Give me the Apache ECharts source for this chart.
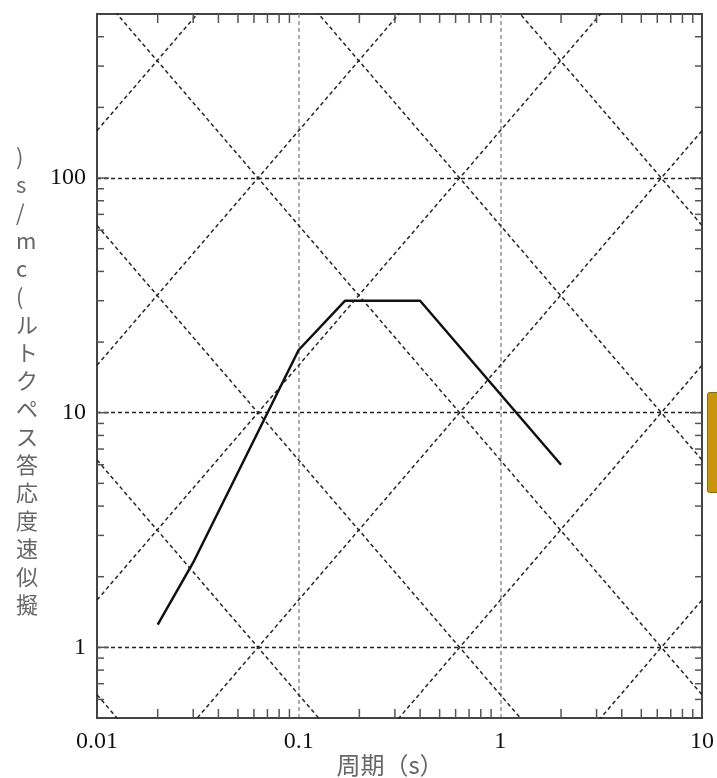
<!DOCTYPE html>
<html>
<head>
<meta charset="utf-8">
<script src="https://cdn.jsdelivr.net/npm/echarts@6/dist/echarts.min.js"></script>
<style>
html,body{margin:0;padding:0;background:#fff;}
#chart{width:717px;height:778px;}
</style>
</head>
<body>
<div id="chart"></div>
<script>
// ---- data ----
const periods = [0.02, 0.03, 0.1, 0.17, 0.4, 2];          // 周期 (s)
const pseudoVelocity = [1.25, 2.3, 18.5, 30, 30, 6];        // cm/s
const xTickLabels = ['0.01', '0.1', '1', '10'];
const yTickLabels = ['1', '10', '100'];
const displacementLevels = [0.001, 0.01, 0.1, 1, 10, 100];  // cm (tripartite guides)
const accelerationLevels = [1, 10, 100, 1000, 10000, 100000]; // cm/s^2 (tripartite guides)
const xMinorTicks = [0.02,0.03,0.04,0.05,0.06,0.07,0.08,0.09,0.2,0.3,0.4,0.5,0.6,0.7,0.8,0.9,2,3,4,5,6,7,8,9];
const yMinorTicks = [0.6,0.7,0.8,0.9,2,3,4,5,6,7,8,9,20,30,40,50,60,70,80,90,200,300,400];
const yMajorTicks = [1, 10, 100];
const yNameChars = [')', 's', '/', 'm', 'c', '(', 'ル', 'ト', 'ク', 'ペ', 'ス', '答', '応', '度', '速', '似', '擬'];
const xName = '周期（s）';

const X_MIN = 0.01, X_MAX = 10, Y_MIN = 0.5, Y_MAX = 500;
const TWO_PI = 2 * Math.PI;

const chart = echarts.init(document.getElementById('chart'));

function fmt(list) {
  return function (v) {
    const s = String(+Number(v).toPrecision(6));
    return list.indexOf(s) >= 0 ? s : '';
  };
}

const guideStyle = { color: '#262626', width: 1.5, type: [4, 3] };
const series = [];
displacementLevels.forEach(function (d) {
  series.push({
    type: 'line', silent: true, symbol: 'none', clip: true, z: 2,
    lineStyle: guideStyle,
    data: [[X_MIN, TWO_PI * d / X_MIN], [X_MAX, TWO_PI * d / X_MAX]]
  });
});
accelerationLevels.forEach(function (a) {
  series.push({
    type: 'line', silent: true, symbol: 'none', clip: true, z: 2,
    lineStyle: guideStyle,
    data: [[X_MIN, a * X_MIN / TWO_PI], [X_MAX, a * X_MAX / TWO_PI]]
  });
});
series.push({
  type: 'line', symbol: 'none', z: 10,
  lineStyle: { color: '#111', width: 2.5 },
  data: periods.map(function (t, i) { return [t, pseudoVelocity[i]]; })
});

const labelFont = { fontFamily: 'Liberation Serif', fontSize: 24, color: '#111' };

chart.setOption({
  animation: false,
  backgroundColor: '#fff',
  grid: { left: 97, right: 15, top: 14, bottom: 60, show: true, borderColor: '#444', borderWidth: 2, outerBoundsMode: 'none', containLabel: false },
  xAxis: [{
    type: 'log', logBase: 10, min: X_MIN, max: X_MAX,
    axisLine: { show: true, lineStyle: { color: '#444', width: 2 } },
    axisTick: { show: false },
    axisLabel: Object.assign({ formatter: fmt(xTickLabels), margin: 12, showMinLabel: true, showMaxLabel: true }, labelFont),
    splitLine: { show: true, showMinLine: false, showMaxLine: false, lineStyle: { color: '#999', width: 1.6, type: [4, 3] } },
    minorTick: { show: false }
  }],
  yAxis: [{
    type: 'log', logBase: 10, min: Y_MIN, max: Y_MAX,
    axisLine: { show: true, lineStyle: { color: '#444', width: 2 } },
    axisTick: { show: false },
    axisLabel: Object.assign({ formatter: fmt(yTickLabels), margin: 11 }, labelFont),
    splitLine: { show: true, showMinLine: false, showMaxLine: false, lineStyle: { color: '#222', width: 1.4, type: [4, 3] } }
  }],
  series: series
});

// ticks placed through the axes' own scales
function px(x, y) { return chart.convertToPixel({ gridIndex: 0 }, [x, y]); }
const g0 = px(X_MIN, Y_MIN), g1 = px(X_MAX, Y_MAX);
const gLeft = g0[0], gBottom = g0[1], gRight = g1[0], gTop = g1[1];
const tickStyle = { stroke: '#555', lineWidth: 1.5 };
const graphics = [];
xMinorTicks.forEach(function (v) {
  const x = px(v, Y_MIN)[0];
  graphics.push({ type: 'line', silent: true, z: 50, shape: { x1: x, y1: gBottom, x2: x, y2: gBottom - 9 }, style: tickStyle });
  graphics.push({ type: 'line', silent: true, z: 50, shape: { x1: x, y1: gTop, x2: x, y2: gTop + 9 }, style: tickStyle });
});
yMinorTicks.map(function (v) { return [v, 7]; }).concat(yMajorTicks.map(function (v) { return [v, 12]; })).forEach(function (it) {
  const y = px(X_MIN, it[0])[1];
  graphics.push({ type: 'line', silent: true, z: 50, shape: { x1: gLeft, y1: y, x2: gLeft + it[1], y2: y }, style: tickStyle });
  graphics.push({ type: 'line', silent: true, z: 50, shape: { x1: gRight, y1: y, x2: gRight - it[1], y2: y }, style: tickStyle });
});
graphics.push({
  type: 'text', left: 16, top: 143, silent: true,
  style: {
    text: yNameChars.join('\n'),
    fontFamily: 'Noto Sans CJK JP', fontSize: 22, lineHeight: 28,
    fill: '#666', align: 'center'
  }
});
graphics.push({
  type: 'text', silent: true,
  x: 390, y: 765,
  style: {
    text: xName, fontFamily: 'Noto Sans CJK JP', fontSize: 24, fill: '#666',
    align: 'center', verticalAlign: 'middle'
  }
});
graphics.push({
  type: 'rect', left: 707, top: 392, silent: true,
  shape: { width: 14, height: 100, r: 2 },
  style: { fill: '#C8960C', stroke: '#8a6a10', lineWidth: 1 }
});
chart.setOption({ graphic: graphics });
</script>
</body>
</html>
